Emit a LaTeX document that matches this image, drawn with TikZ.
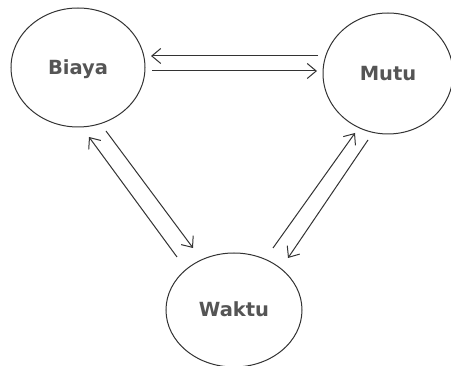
\documentclass[tikz,border=0pt]{standalone}
\usepackage{fontspec}
\setmainfont{DejaVu Sans}
\usetikzlibrary{arrows.meta,calc,shapes.geometric}
\definecolor{inkline}{HTML}{333333}
\definecolor{inktext}{HTML}{555555}
\tikzset{
  factor/.style={ellipse, draw=inkline, line width=1pt, inner sep=0pt,
    font=\bfseries\fontsize{19.5}{21}\selectfont, text=inktext,
    text height=14pt, text depth=0pt},
  flow/.style={draw=inkline, line width=1pt,
    -{Straight Barb[length=9pt,width=15pt,line width=1pt]}},
}
\begin{document}
\begin{tikzpicture}[x=1pt,y=-1pt]
  \useasboundingbox (0,0) rectangle (451,366);
  \fill[white] (0,0) rectangle (451,366);

  % the three project constraints
  \node[factor, minimum width=134pt, minimum height=119pt] (biaya) at (78,67.5) {Biaya};
  \node[factor, minimum width=130pt, minimum height=121pt] (mutu)  at (388,73.5) {Mutu};
  \node[factor, minimum width=136pt, minimum height=114pt] (waktu) at (234,310) {Waktu};

  % Biaya <-> Mutu
  \draw[flow] ($(mutu)+(-70,-17.5)$) -- ($(biaya)+(73,-11.5)$);
  \draw[flow] ($(biaya)+(74,3.5)$) -- ($(mutu)+(-71,-2.5)$);

  % Biaya <-> Waktu
  \draw[flow] ($(waktu)+(-57,-53)$) -- ($(biaya)+(11,69.5)$);
  \draw[flow] ($(biaya)+(28,63.5)$) -- ($(waktu)+(-41,-62)$);

  % Waktu <-> Mutu
  \draw[flow] ($(waktu)+(39,-62)$) -- ($(mutu)+(-33,59.5)$);
  \draw[flow] ($(mutu)+(-20,66.5)$) -- ($(waktu)+(54,-52)$);
\end{tikzpicture}
\end{document}
